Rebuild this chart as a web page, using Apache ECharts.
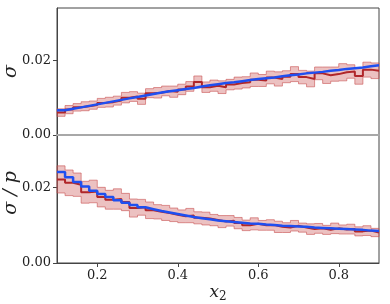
<!DOCTYPE html>
<html><head><meta charset="utf-8">
<script src="https://cdn.jsdelivr.net/npm/echarts@6/dist/echarts.min.js"></script>
<style>html,body{margin:0;padding:0;background:#fff}#c{width:390px;height:304px}</style>
</head><body><div id="c"></div>
<script>
// bin edges (41) for 40 bins
var binEdges = [0.10,0.12,0.14,0.16,0.18,0.20,0.22,0.24,0.26,0.28,0.30,0.32,0.34,0.36,0.38,0.40,0.42,0.44,0.46,0.48,0.50,0.52,0.54,0.56,0.58,0.60,0.62,0.64,0.66,0.68,0.70,0.72,0.74,0.76,0.78,0.80,0.82,0.84,0.86,0.88,0.90];
// top panel: sigma
var sigmaData = [0.0060,0.0068,0.0074,0.0077,0.0080,0.0086,0.0088,0.0092,0.0100,0.0103,0.0097,0.0112,0.0113,0.0118,0.0116,0.0122,0.0130,0.0142,0.0128,0.0132,0.0128,0.0135,0.0139,0.0141,0.0148,0.0146,0.0154,0.0150,0.0156,0.0163,0.0155,0.0150,0.0165,0.0160,0.0163,0.0168,0.0170,0.0158,0.0175,0.0172];
var sigmaErr = [0.0010,0.0011,0.0010,0.0012,0.0011,0.0012,0.0013,0.0012,0.0014,0.0013,0.0015,0.0012,0.0014,0.0013,0.0015,0.0014,0.0013,0.0016,0.0014,0.0015,0.0017,0.0014,0.0016,0.0015,0.0018,0.0016,0.0017,0.0019,0.0016,0.0020,0.0018,0.0021,0.0017,0.0022,0.0019,0.0023,0.0018,0.0022,0.0020,0.0021];
var sigmaModel = [0.0066,0.0070,0.0074,0.0078,0.0082,0.0086,0.0090,0.0094,0.0098,0.0102,0.0106,0.0110,0.0114,0.0117,0.0120,0.0123,0.0126,0.0130,0.0133,0.0136,0.0139,0.0141,0.0144,0.0147,0.0150,0.0152,0.0154,0.0157,0.0160,0.0162,0.0165,0.0167,0.0169,0.0172,0.0174,0.0177,0.0179,0.0181,0.0184,0.0187];
// bottom panel: sigma/p
var ratioData = [0.0222,0.0213,0.0208,0.0188,0.0190,0.0175,0.0168,0.0170,0.0162,0.0146,0.0148,0.0140,0.0136,0.0133,0.0128,0.0124,0.0126,0.0120,0.0118,0.0114,0.0110,0.0112,0.0106,0.0100,0.0104,0.0100,0.0101,0.0096,0.0094,0.0099,0.0094,0.0090,0.0092,0.0088,0.0092,0.0089,0.0090,0.0084,0.0086,0.0081];
var ratioErr = [0.0036,0.0034,0.0031,0.0029,0.0030,0.0026,0.0025,0.0027,0.0023,0.0024,0.0021,0.0022,0.0019,0.0020,0.0018,0.0017,0.0019,0.0016,0.0017,0.0015,0.0016,0.0014,0.0015,0.0014,0.0016,0.0013,0.0014,0.0015,0.0013,0.0014,0.0012,0.0014,0.0013,0.0012,0.0014,0.0012,0.0013,0.0012,0.0013,0.0011];
var ratioModel = [0.0242,0.0228,0.0215,0.0203,0.0192,0.0183,0.0175,0.0167,0.0160,0.0154,0.0148,0.0143,0.0138,0.0134,0.0130,0.0126,0.0122,0.0119,0.0116,0.0113,0.0111,0.0109,0.0107,0.0105,0.0104,0.0102,0.0101,0.0099,0.0098,0.0097,0.0096,0.0094,0.0093,0.0092,0.0091,0.0090,0.0089,0.0088,0.0086,0.0085];
var yTicks = [0, 0.02];
var xTicks = [0.2, 0.4, 0.6, 0.8];
var yLabelTop = 'σ';
var yLabelBot = 'σ / p';

var RED = '#b0262a', BLUE = '#1f4ff0';
var FILL = 'rgba(205,92,92,0.38)', EDGE = 'rgba(200,80,80,0.6)';
var FONT = 'DejaVu Serif';

function stepPoints(vals) {
  var pts = [];
  for (var i = 0; i < vals.length; i++) pts.push([binEdges[i], vals[i]]);
  pts.push([binEdges[vals.length], vals[vals.length - 1]]);
  return pts;
}
function bandSeries(vals, errs, gi) {
  return {
    type: 'custom', xAxisIndex: gi, yAxisIndex: gi, z: 1, silent: true,
    data: [[0.5, vals[0]]],
    renderItem: function (params, api) {
      var up = [], lo = [];
      for (var i = 0; i < vals.length; i++) {
        up.push(api.coord([binEdges[i], vals[i] + errs[i]]));
        up.push(api.coord([binEdges[i + 1], vals[i] + errs[i]]));
        lo.push(api.coord([binEdges[i], vals[i] - errs[i]]));
        lo.push(api.coord([binEdges[i + 1], vals[i] - errs[i]]));
      }
      var pts = up.concat(lo.reverse());
      return { type: 'polygon', shape: { points: pts }, style: { fill: FILL, stroke: EDGE, lineWidth: 1 } };
    }
  };
}
function lineSeries(vals, gi, color, w, z) {
  return { type: 'line', xAxisIndex: gi, yAxisIndex: gi, step: 'end', showSymbol: false, symbol: 'none', z: z,
    data: stepPoints(vals), lineStyle: { color: color, width: w }, silent: true, animation: false };
}
var axisCol = '#444';
var labelStyle = { fontFamily: FONT, fontSize: 13, color: '#222' };
var chart = echarts.init(document.getElementById('c'), null, { renderer: 'canvas' });
chart.setOption({
  animation: false,
  grid: [
    { left: 57, top: 8, width: 322, height: 127, show: true, borderColor: axisCol, borderWidth: 1, backgroundColor: 'transparent', containLabel: false, outerBoundsMode: 'none' },
    { left: 57, top: 135, width: 322, height: 128, show: true, borderColor: axisCol, borderWidth: 1, backgroundColor: 'transparent', containLabel: false, outerBoundsMode: 'none' }
  ],
  xAxis: [
    { type: 'value', gridIndex: 0, min: 0.1, max: 0.9, z: 10,
      axisLine: { show: true, lineStyle: { color: '#a8a8a8', width: 2 } },
      axisTick: { show: false }, axisLabel: { show: false }, splitLine: { show: false } },
    { type: 'value', gridIndex: 1, min: 0.1, max: 0.9,
      axisLine: { show: true, lineStyle: { color: axisCol, width: 1 } },
      axisTick: { show: true, length: 4, customValues: xTicks, lineStyle: { color: axisCol } },
      axisLabel: Object.assign({ customValues: xTicks, margin: 6, formatter: function (v) { return v.toFixed(1); } }, labelStyle),
      splitLine: { show: false },
      name: '{i|x}{s|2}', nameLocation: 'middle', nameGap: 20, nameMoveOverlap: false,
      nameTextStyle: { rich: { i: { fontFamily: FONT, fontStyle: 'italic', fontSize: 17, color: '#222' },
        s: { fontFamily: FONT, fontSize: 12, color: '#222', verticalAlign: 'bottom', padding: [8, 0, 0, 0] } } } }
  ],
  yAxis: [
    { type: 'value', gridIndex: 0, min: 0, max: 0.034,
      axisLine: { show: true, lineStyle: { color: axisCol } },
      axisTick: { show: true, length: 4, customValues: yTicks, lineStyle: { color: axisCol } },
      axisLabel: Object.assign({ customValues: yTicks, margin: 6, formatter: function (v) { return v.toFixed(2); } }, labelStyle),
      splitLine: { show: false },
      name: yLabelTop, nameLocation: 'middle', nameGap: 36, nameRotate: 90, nameMoveOverlap: false,
      nameTextStyle: { fontFamily: FONT, fontStyle: 'italic', fontSize: 19, color: '#222' } },
    { type: 'value', gridIndex: 1, min: 0, max: 0.034,
      axisLine: { show: true, lineStyle: { color: axisCol } },
      axisTick: { show: true, length: 4, customValues: yTicks, lineStyle: { color: axisCol } },
      axisLabel: Object.assign({ customValues: yTicks, margin: 6, formatter: function (v) { return v.toFixed(2); } }, labelStyle),
      splitLine: { show: false },
      name: yLabelBot, nameLocation: 'middle', nameGap: 36, nameRotate: 90, nameMoveOverlap: false,
      nameTextStyle: { fontFamily: FONT, fontStyle: 'italic', fontSize: 19, color: '#222', padding: [0, 0, 0, 12] } }
  ],
  series: [
    bandSeries(sigmaData, sigmaErr, 0),
    lineSeries(sigmaData, 0, RED, 2, 2),
    lineSeries(sigmaModel, 0, BLUE, 2.5, 3),
    bandSeries(ratioData, ratioErr, 1),
    lineSeries(ratioData, 1, RED, 2, 2),
    lineSeries(ratioModel, 1, BLUE, 2.5, 3)
  ]
});
</script></body></html>
